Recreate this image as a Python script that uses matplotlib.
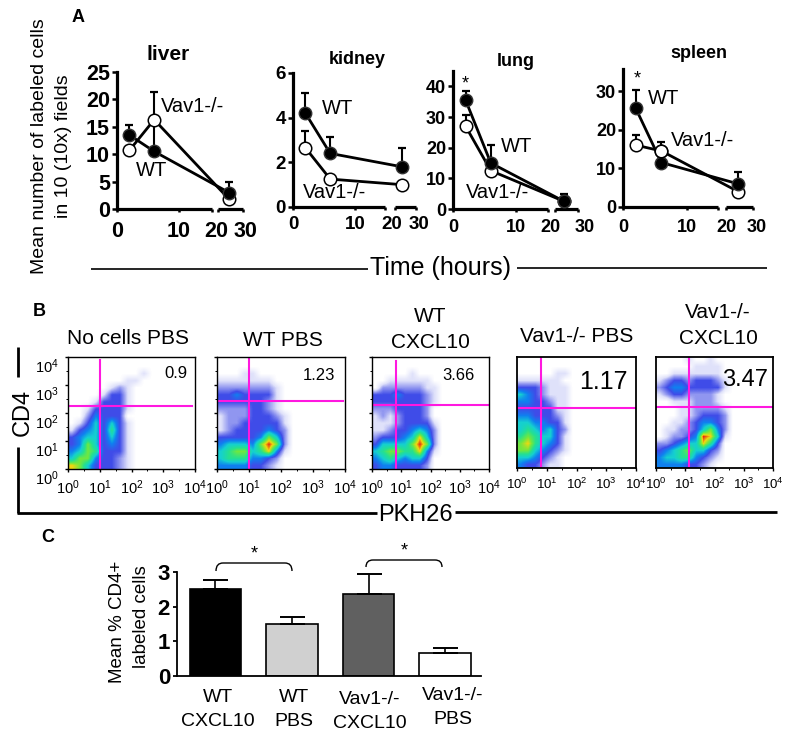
import numpy as np
import matplotlib
matplotlib.use('Agg')
import matplotlib.pyplot as plt
from matplotlib.colors import LinearSegmentedColormap
from matplotlib.path import Path
from matplotlib.patches import PathPatch
from matplotlib.transforms import ScaledTranslation

plt.rcParams['font.family'] = ['Liberation Sans', 'DejaVu Sans']
plt.rcParams['mathtext.fontset'] = 'custom'
plt.rcParams['mathtext.rm'] = 'Liberation Sans'

# panel A values
times = [2, 6, 24]
organs = ['liver', 'kidney', 'lung', 'spleen']
wt_means = [[13.5, 10.5, 3.0], [4.2, 2.4, 1.8], [35.5, 15.0, 2.5], [25.5, 11.5, 6.0]]
wt_errs = [[1.8, 5.0, 2.0], [0.9, 0.75, 0.85], [3.0, 6.0, 2.5], [4.7, 0.0, 3.0]]
ko_means = [[10.7, 16.3, 1.8], [2.65, 1.25, 1.0], [27.0, 12.5, 2.5], [16.0, 14.5, 4.0]]
ko_errs = [[0.0, 5.0, 0.0], [0.75, 0.0, 0.0], [3.5, 0.0, 0.0], [2.5, 2.3, 0.0]]
y_ticks = [[0, 5, 10, 15, 20, 25], [0, 2, 4, 6], [0, 10, 20, 30, 40], [0, 10, 20, 30]]
y_tops = [25, 6, 45, 35.7]

# panel B values, density level per cell, top row first, 4 cells per decade
dens_none = ['0000000000000000', '0000000000000000', '0000000001000000', '0000000110000000',
             '0000012100000000', '0000133100000000', '0001333100000000', '0013333100000000',
             '0024333000000000', '0135353100000000', '1345363100000000', '3455353100000000',
             '3475343100000000', '4576333100000000', '5774332100000000', '8753332100000000']
dens_wt_pbs = ['0000000000000000', '0000000000000000', '0001100000000000', '1111111000000000',
               '2222222100000000', '3343333100000000', '3333332100000000', '2222332100000000',
               '1222333210000000', '1223333310000000', '1233334320000000', '3333347520000000',
               '4555479720000000', '5677568410000000', '5666443200000000', '4444332100000000']
dens_wt_cxcl = ['0000000000000000', '0000000000000000', '0000010000000000', '0011111100000000',
                '0222222110000000', '3334333210000000', '3333333210000000', '2223333200000000',
                '1212333200000000', '1112333310000000', '1123345420000000', '2333458520000000',
                '3555579720000000', '5677668410000000', '4565455300000000', '3443333200000000']
dens_ko_pbs = ['0000000000000000', '0000000000000000', '0000011000000000', '1111110000000000',
               '3332111000000000', '5432111000000000', '4433211000000000', '3333311000000000',
               '4433321000000000', '5544331000000000', '5654532000000000', '6765531000000000',
               '7865431000000000', '7754321000000000', '5543210000000000', '4332110000000000']
dens_ko_cxcl = ['0000100100000000', '0000011110000000', '0011111110000000', '1233233321000000',
                '2344333331000000', '1233222210000000', '0011122210000000', '0001122221000000',
                '0001123332000000', '0011234432000000', '0112235742000000', '0122349851000000',
                '2234558630000000', '3456755320000000', '4556643210000000', '4444332100000000']
densities = [dens_none, dens_wt_pbs, dens_wt_cxcl, dens_ko_pbs, dens_ko_cxcl]
gate_x = [1.0, 1.0, 0.82, 0.81, 1.13]
gate_y = [2.25, 2.43, 2.29, 2.16, 2.2]
gate_pct = ['0.9', '1.23', '3.66', '1.17', '3.47']
decade_labels = [r'$\mathregular{10^{%d}}$' % i for i in range(5)]

# panel C values
bar_means = [2.5, 1.5, 2.37, 0.66]
bar_errs = [0.28, 0.21, 0.58, 0.15]
bar_colors = ['black', '#d0d0d0', '#606060', 'white']

fig = plt.figure(figsize=(8, 7.4), dpi=100)


def box(left, top, right, bottom):
    return fig.add_axes([left / 800, 1 - bottom / 740, (right - left) / 800, (bottom - top) / 740])


# layout of panel A: left, top, right, bottom, then pixels of hours 0,10,20,21,24,30
a_boxes = [(117, 72, 243, 209), (293, 73, 416, 207), (453, 71, 578, 209), (623, 69, 753, 207)]
hour_knots = [0, 10, 20, 21, 24, 30]
hour_px = [[117, 179, 212, 218, 229, 243], [293, 355, 385, 395, 402, 416],
           [453, 516, 548, 555, 564, 578], [623, 687, 718, 726, 738, 753]]
tick_sizes = [15.5, 13.5, 13, 13]
x_pads = [6, 4, 5, 6]
label_shift = [(3, 2), (5, 2), (2, 5), (6, 3)]

for i in range(4):
    ax = box(*a_boxes[i])
    knots = np.array(hour_px[i], dtype=float)
    ax.set_xscale('function', functions=(lambda v, k=knots: np.interp(v, hour_knots, k),
                                         lambda v, k=knots: np.interp(v, k, hour_knots)))
    ax.set_xlim(0, 30)
    ax.set_ylim(0, y_tops[i])
    ax.errorbar(times, ko_means[i], yerr=[[0, 0, 0], ko_errs[i]], fmt='none', ecolor='black',
                elinewidth=1.5, capsize=3.2, capthick=1.6, zorder=3, clip_on=False)
    ax.errorbar(times, wt_means[i], yerr=[[0, 0, 0], wt_errs[i]], fmt='none', ecolor='black',
                elinewidth=1.5, capsize=3.2, capthick=1.6, zorder=3, clip_on=False)
    ax.plot(times, ko_means[i], '-o', color='black', mfc='white', mec='black', mew=1.1, ms=9,
            lw=2, zorder=4, clip_on=False)
    ax.plot(times, wt_means[i], '-o', color='black', mfc='black', mec='#333333', mew=1, ms=9,
            lw=2, zorder=5, clip_on=False)
    if organs[i] == 'spleen':
        ax.plot(times[1], ko_means[i][1], 'o', mfc='white', mec='black', mew=1.1, ms=9, zorder=6)
    for s in ['top', 'right', 'bottom']:
        ax.spines[s].set_visible(False)
    ax.spines['left'].set_linewidth(2.3)
    ax.plot([0, 20], [0, 0], color='black', lw=2.3, clip_on=False, solid_capstyle='butt', zorder=2)
    ax.plot([21, 30], [0, 0], color='black', lw=2.3, clip_on=False, solid_capstyle='butt', zorder=2)
    ax.set_yticks(y_ticks[i])
    ax.set_xticks([0, 10, 20, 21, 30])
    ax.set_xticklabels(['0', '10', '20', '', '30'])
    ax.tick_params(axis='y', length=3.5, width=1.8, pad=1.5, labelsize=tick_sizes[i])
    ax.tick_params(axis='x', length=2.5, width=1.8, pad=x_pads[i], labelsize=tick_sizes[i])
    for lbl in ax.get_xticklabels() + ax.get_yticklabels():
        lbl.set_fontweight('bold')
    labels = ax.get_xticklabels()
    labels[2].set_transform(labels[2].get_transform() + ScaledTranslation(label_shift[i][0] / 72, 0, fig.dpi_scale_trans))
    labels[4].set_transform(labels[4].get_transform() + ScaledTranslation(label_shift[i][1] / 72, 0, fig.dpi_scale_trans))
    ax.patch.set_alpha(0)

# panel B
flow_cmap = LinearSegmentedColormap.from_list('flow', ['white', '#dfe1fa', '#8f95f0', '#3f4ce8', '#0f80f0',
                                                        '#15d0d0', '#25e090', '#70e840', '#f0d810', '#e82a10'])
b_boxes = [(68, 357, 195, 469), (217, 357, 345, 469), (372, 357, 489, 469), (517, 357, 636, 468), (656, 357, 773, 468)]
gate_right = [3.9, 3.95, 4.0, 3.95, 3.95]
gate_top = [3.88, 4.0, 3.85, 4.0, 4.0]
frame_w = [1.0, 1.0, 1.0, 1.3, 1.3]
flow_tick_size = [10.5, 10.5, 10.5, 9.5, 9.5]
for i in range(5):
    ax = box(*b_boxes[i])
    grid = np.array([[int(c) for c in row] for row in densities[i]], dtype=float)
    ax.imshow(grid, cmap=flow_cmap, vmin=0, vmax=9, extent=(0, 4, 0, 4), origin='upper',
              aspect='auto', interpolation='bilinear')
    ax.plot([gate_x[i], gate_x[i]], [0, gate_top[i]], color='#ff18e0', lw=1.5)
    ax.plot([0, gate_right[i]], [gate_y[i], gate_y[i]], color='#ff18e0', lw=1.5)
    ax.set_xlim(0, 4)
    ax.set_ylim(0, 4)
    ax.set_xticks(range(5))
    ax.set_xticklabels(decade_labels)
    ax.set_xticks(np.arange(0.5, 4, 1), minor=True)
    ax.set_yticks(range(5))
    if i == 0:
        ax.set_yticklabels(decade_labels)
        for lbl in ax.get_yticklabels():
            lbl.set_verticalalignment('top')
    else:
        ax.set_yticklabels([])
    ax.set_yticks(np.arange(0.5, 4, 1), minor=True)
    ax.tick_params(which='major', length=2.5, width=1, labelsize=flow_tick_size[i], pad=4)
    ax.tick_params(which='minor', length=1.2, width=0.7)
    if i > 2:
        ax.tick_params(axis='y', which='both', length=0)
    for s in ax.spines.values():
        s.set_linewidth(frame_w[i])

# panel C
ax = box(177, 572, 481, 676)
ax.bar(range(4), bar_means, width=0.67, color=bar_colors, edgecolor='black', linewidth=1.2,
       yerr=[[0, 0, 0, 0], bar_errs], ecolor='black', capsize=9,
       error_kw={'elinewidth': 1.2, 'capthick': 1.4})
ax.set_xlim(-0.503, 3.47)
ax.set_ylim(0, 3)
ax.set_yticks([0, 1, 2, 3])
ax.set_xticks([])
for s in ['top', 'right']:
    ax.spines[s].set_visible(False)
ax.spines['left'].set_linewidth(1.3)
ax.spines['bottom'].set_linewidth(1.3)
ax.tick_params(axis='y', length=3, width=1.3, labelsize=16, pad=2)
for lbl in ax.get_yticklabels():
    lbl.set_fontweight('bold')

# everything else is laid out in image pixels
over = fig.add_axes([0, 0, 1, 1], zorder=10)
over.set_xlim(0, 800)
over.set_ylim(740, 0)
over.axis('off')


def label(x, y, s, size=14, **kw):
    over.text(x, y, s, fontsize=size, ha=kw.pop('ha', 'center'), va=kw.pop('va', 'center'), **kw)


def rule(xs, ys, lw):
    over.plot(xs, ys, color='black', lw=lw, solid_capstyle='butt')


label(78, 18, 'A', 13, fontweight='bold')
label(39, 312, 'B', 13, fontweight='bold')
label(48, 538, 'C', 13, fontweight='bold')

label(168, 54, 'liver', 15, fontweight='bold')
label(357, 60, 'kidney', 13, fontweight='bold')
label(516, 61, 'lung', 13, fontweight='bold')
label(699, 54, 'spleen', 13, fontweight='bold')

label(40, 146, 'Mean number of labeled cells', 14, rotation=90)
label(64, 146, 'in 10 (10x) fields', 14, rotation=90)
label(441, 268, 'Time (hours)', 18)
rule([91, 368], [269, 269], 1.2)
rule([517, 767], [268, 268], 1.2)

label(193, 106, 'Vav1-/-', 14.5)
label(152, 171, 'WT', 14.5)
label(338, 108, 'WT', 14.5)
label(335, 192, 'Vav1-/-', 14.5)
label(517, 146, 'WT', 14.5)
label(498, 192, 'Vav1-/-', 14.5)
label(664, 99, 'WT', 14.5)
label(703, 140, 'Vav1-/-', 14.5)
label(465, 84, '*', 13)
label(637, 79, '*', 13)

label(128, 338, 'No cells PBS', 15)
label(283, 340, 'WT PBS', 15)
label(430, 316, 'WT', 15)
label(430, 342, 'CXCL10', 15)
label(577, 336, 'Vav1-/- PBS', 15)
label(718, 312, 'Vav1-/-', 15)
label(718, 338, 'CXCL10', 15)

pct_x = [176, 319, 458, 603, 745]
pct_y = [373, 375, 375, 382, 380]
pct_size = [12, 12, 12, 18, 17]
for i in range(5):
    label(pct_x[i], pct_y[i], gate_pct[i], pct_size[i])

label(23, 412, 'CD4', 17, rotation=90)
rule([17.5, 17.5], [347, 377], 2)
rule([17.5, 17.5], [447, 513], 2)
rule([17, 377], [513, 513], 2)
rule([455, 777], [512, 512], 2)
label(415, 515, 'PKH26', 17)

label(117, 622, 'Mean % CD4+', 13.5, rotation=90)
label(142, 617, 'labeled cells', 13.5, rotation=90)

label(218, 698, 'WT', 14)
label(218, 722, 'CXCL10', 14)
label(294, 698, 'WT', 14)
label(294, 722, 'PBS', 14)
label(370, 700, 'Vav1-/-', 14)
label(370, 723, 'CXCL10', 14)
label(453, 696, 'Vav1-/-', 14)
label(453, 720, 'PBS', 14)

for x0, x1, top, foot, star_y in [(216, 292, 563, 571, 554), (366, 442, 560, 567, 551)]:
    verts = [(x0, foot), (x0, top), (x0 + 7, top), (x1 - 7, top), (x1, top), (x1, foot)]
    codes = [Path.MOVETO, Path.CURVE3, Path.CURVE3, Path.LINETO, Path.CURVE3, Path.CURVE3]
    over.add_patch(PathPatch(Path(verts, codes), fc='none', ec='black', lw=1))
    label((x0 + x1) / 2, star_y, '*', 13)

fig.savefig('out.png', dpi=100)
